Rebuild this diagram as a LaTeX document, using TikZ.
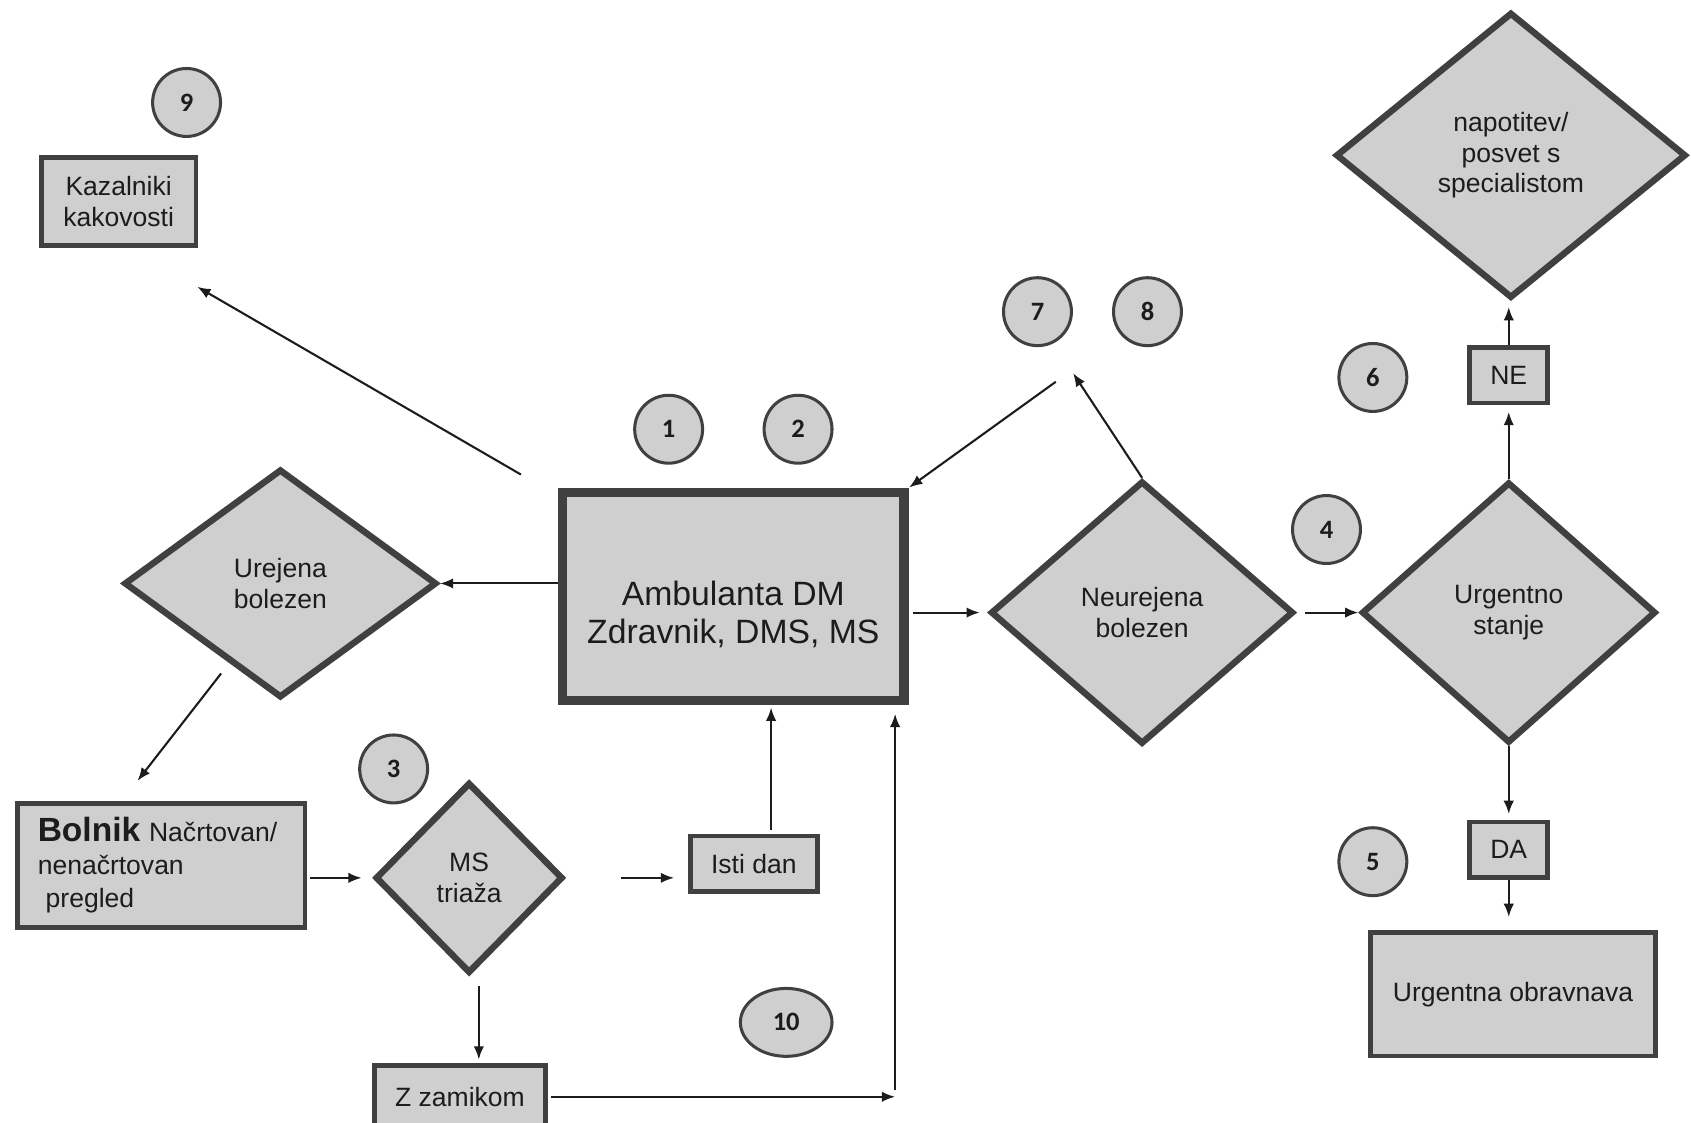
\documentclass[tikz,border=0pt]{standalone}
\usepackage{fontspec}
\setmainfont{Liberation Sans}
\newfontfamily\numfont{Carlito}
\usetikzlibrary{arrows.meta,shapes.geometric}
\definecolor{boxgray}{RGB}{207,207,207}
\definecolor{edgegray}{RGB}{64,64,64}
\definecolor{inkgray}{RGB}{28,28,28}

\begin{document}
\begin{tikzpicture}[x=0.02cm,y=-0.02cm,>={Latex[length=7pt,width=5.5pt]},
  box/.style={draw=edgegray,fill=boxgray,line width=2.5pt,inner sep=0pt,align=center,
    font=\fontsize{14}{16}\selectfont,text=inkgray},
  dia/.style={diamond,draw=edgegray,fill=boxgray,line width=3.4pt,inner sep=0pt,align=center,
    font=\fontsize{14}{16}\selectfont,text=inkgray},
  num/.style={circle,draw=edgegray,fill=boxgray,line width=1.6pt,minimum size=1.26cm,inner sep=0pt,
    font=\numfont\bfseries\fontsize{14}{16}\selectfont,text=inkgray},
  arr/.style={->,line width=1.1pt,draw=inkgray}]
\useasboundingbox (0,0) rectangle (1568,1041);
\path
(173,95)      node[num] (n9) {9}
(110,187)     node[box,minimum width=2.87cm,minimum height=1.63cm] (kaz) {Kazalniki\\kakovosti}
(620,398)     node[num] (n1) {1}
(740,398)     node[num] (n2) {2}
(680,553)     node[box,line width=5.1pt,minimum width=6.34cm,minimum height=3.86cm,
                   font=\fontsize{17.8}{20}\selectfont] (amb)
                   {\raisebox{-11pt}[\height][\depth]{\begin{tabular}{@{}c@{}}Ambulanta DM\\Zdravnik, DMS, MS\end{tabular}}}
(260,541)     node[dia,minimum width=5.8cm,minimum height=4.24cm] (urej) {Urejena\\bolezen}
(149.5,802.5) node[box,minimum width=5.33cm,minimum height=2.29cm,text width=4.58cm,align=left,
                   font=\fontsize{14}{17.4}\selectfont] (bol)
                   {{\fontsize{17.7}{17.4}\selectfont\bfseries Bolnik} Načrtovan/\\nenačrtovan\\\hspace*{0.3em}pregled}
(365,713)     node[num] (n3) {3}
(435,814)     node[dia,minimum width=3.48cm,minimum height=3.54cm] (tri) {MS\\triaža}
(699,801)     node[box,minimum width=2.35cm,minimum height=1.03cm] (isti) {Isti dan}
(426.5,1017)  node[box,minimum width=3.17cm,minimum height=1.16cm] (zam) {Z zamikom}
(729,948)     node[num,ellipse,minimum width=1.7cm,minimum height=1.26cm] (n10) {10}
(1059,568)    node[dia,minimum width=5.62cm,minimum height=4.88cm] (neu) {Neurejena\\bolezen}
(962,289)     node[num] (n7) {7}
(1064,289)    node[num] (n8) {8}
(1230,491)    node[num] (n4) {4}
(1399,568)    node[dia,minimum width=5.46cm,minimum height=4.84cm] (urg) {Urgentno\\stanje}
(1401,144)    node[dia,minimum width=6.5cm,minimum height=5.3cm] (napo) {napotitev/\\posvet s\\specialistom}
(1273,350)    node[num] (n6) {6}
(1399,348)    node[box,minimum width=1.45cm,minimum height=1.03cm] (ne) {NE}
(1273,799)    node[num] (n5) {5}
(1399,788)    node[box,minimum width=1.45cm,minimum height=1.03cm] (da) {DA}
(1403,922)    node[box,minimum width=5.29cm,minimum height=2.29cm] (urgob) {Urgentna obravnava};

\coordinate (c78a) at (979,354);
\coordinate (c78b) at (995,346);
\coordinate (zc) at (830,1017);

% left part
\draw[arr] ([shift={(-34,-12)}]amb.north west) -- ([shift={(-1,36)}]kaz.south east);
\draw[arr] (urej.east -| amb.west) -- (urej.east);
\draw[arr] ([shift={(19,29)}]urej.south west) -- ([shift={(-22,-19)}]bol.north);
\draw[arr,shorten <=1.5pt,shorten >=5.5pt] (tri.west -| bol.east) -- (tri.west);
\draw[arr,shorten >=7.4pt] (tri.east) ++(51,0) -- (tri.east -| isti.west);
\draw[arr] (isti.north) ++(16,-3) -- ++(0,-114);
\draw[arr] (tri.south) ++(9,9) -- ++(0,68);
\draw[arr,shorten <=1.5pt] (zc -| zam.east) -- (zc);
\draw[arr,shorten >=4.5pt] (zc) ++(0,-6) -- (amb.south -| zc);
% right part
\draw[arr] (c78a) -- (amb.north east);
\draw[arr] (neu.north) -- (c78b);
\draw[arr,shorten <=2pt,shorten >=4pt] (neu.west -| amb.east) -- (neu.west);
\draw[arr,shorten <=4.5pt] (neu.east) -- (urg.west);
\draw[arr,shorten >=3.4pt] (urg.north) -- (urg.north |- ne.south);
\draw[arr,shorten >=3pt] (ne.north) -- (ne.north |- napo.south);
\draw[arr,shorten >=3pt] (urg.south) -- (urg.south |- da.north);
\draw[arr,shorten >=7pt] (da.south) -- (da.south |- urgob.north);
\end{tikzpicture}
\end{document}
